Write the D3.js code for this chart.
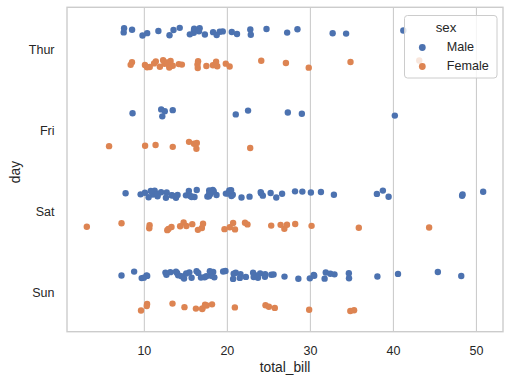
<!DOCTYPE html>
<html>
<head>
<meta charset="utf-8">
<script src="https://cdn.jsdelivr.net/npm/d3@7"></script>
<style>
  body { margin: 0; background: #fff; }
  text { font-family: "Liberation Sans", Arial, sans-serif; fill: #262626; }
</style>
</head>
<body>
<div id="chart"></div>
<script>
// categories
var days = ["Thur", "Fri", "Sat", "Sun"];
var sexes = ["Male", "Female"];
var xTicks = [10, 20, 30, 40, 50];

// total_bill per day and sex
var thurMale = [27.20, 22.76, 17.29, 19.44, 16.66, 32.68, 15.98, 13.03, 18.28, 24.71, 21.16, 11.69, 14.26, 15.95, 8.52,
    22.82, 19.08, 16.00, 34.30, 41.19, 9.78, 7.51, 28.44, 15.48, 16.58, 7.56, 10.34, 13.51, 18.71, 20.53];
var thurFemale = [10.07, 34.83, 10.65, 12.43, 24.08, 13.42, 12.48, 29.80, 14.52, 11.38, 20.27, 11.17, 12.26, 18.26, 8.51,
    10.33, 14.15, 13.16, 17.47, 27.05, 16.43, 8.35, 18.64, 11.87, 19.81, 43.11, 13.00, 12.74, 13.00, 16.40, 16.47, 18.78];
var friMale = [28.97, 22.49, 40.17, 27.28, 12.03, 21.01, 12.46, 12.16, 8.58, 13.42];
var friFemale = [5.75, 16.32, 22.75, 11.35, 15.38, 13.42, 15.98, 16.27, 10.09];
var satMale = [20.65, 17.92, 39.42, 19.82, 17.81, 13.37, 12.69, 21.70, 9.55, 18.35, 17.78, 24.06, 16.31, 18.69, 31.27,
    16.04, 38.01, 11.24, 48.27, 20.29, 13.81, 11.02, 18.29, 17.59, 20.08, 20.23, 15.01, 12.02, 10.51, 17.92, 15.36,
    20.49, 25.21, 18.24, 14.00, 50.81, 15.81, 26.59, 38.73, 24.27, 30.06, 25.89, 48.33, 28.15, 11.59, 7.74, 20.45,
    13.28, 24.01, 15.69, 11.61, 10.77, 15.53, 10.07, 12.60, 32.83, 29.03, 22.67, 17.82];
var satFemale = [20.29, 15.77, 19.65, 15.06, 20.69, 16.93, 26.41, 16.45, 3.07, 17.07, 26.86, 25.28, 14.73, 44.30, 22.42,
    20.92, 14.31, 7.25, 10.59, 10.63, 12.76, 13.27, 28.17, 12.90, 30.14, 22.12, 35.83, 27.18];
var sunMale = [10.34, 21.01, 23.68, 25.29, 8.77, 26.88, 15.04, 14.78, 10.27, 15.42, 18.43, 21.58, 16.29, 17.46, 13.94,
    9.68, 30.40, 18.29, 22.23, 32.40, 28.55, 18.04, 12.54, 9.94, 25.56, 19.49, 38.07, 23.95, 29.93, 14.07, 13.13,
    17.26, 24.55, 19.77, 48.17, 16.49, 21.50, 12.66, 13.81, 24.52, 20.76, 31.71, 7.25, 31.85, 16.82, 32.90, 17.89,
    14.48, 34.63, 34.65, 23.33, 45.35, 23.17, 40.55, 20.69, 30.46, 23.10, 15.69];
var sunFemale = [16.99, 24.59, 35.26, 14.83, 10.33, 16.97, 10.29, 34.81, 25.71, 17.31, 29.85, 25.00, 13.39, 16.21, 17.51,
    9.60, 20.90, 18.15];

var groups = {
    Thur: {Male: thurMale, Female: thurFemale},
    Fri: {Male: friMale, Female: friFemale},
    Sat: {Male: satMale, Female: satFemale},
    Sun: {Male: sunMale, Female: sunFemale}
};

var width = 512, height = 385;
var plotL = 67, plotR = 503, plotT = 7.3, plotB = 331.7;

var points = [];
days.forEach(function (day) {
    sexes.forEach(function (sex) {
        groups[day][sex].forEach(function (v, i) {
            // spread within the strip (golden ratio sequence, not data)
            var j = ((i + 1) * 0.6180339887) % 1 - 0.5;
            points.push({day: day, sex: sex, value: v, jit: j});
        });
    });
});

var all = points.map(function (d) { return d.value; });
var lo = d3.min(all), hi = d3.max(all), pad = (hi - lo) * 0.05;

var x = d3.scaleLinear().domain([lo - pad, hi + pad]).range([plotL, plotR]);
var y = d3.scaleBand().domain(days).range([plotT, plotB]).padding(0);
var hue = d3.scaleOrdinal().domain(sexes).range(["#4c72b0", "#dd8452"]);
var bw = y.bandwidth();
var dodge = d3.scaleOrdinal().domain(sexes).range([-0.2, 0.2]);

var svg = d3.select("#chart").append("svg")
    .attr("width", width)
    .attr("height", height);

// vertical grid
svg.append("g")
    .selectAll("line")
    .data(xTicks)
    .enter()
    .append("line")
    .attr("x1", function (d) { return x(d); })
    .attr("x2", function (d) { return x(d); })
    .attr("y1", plotT)
    .attr("y2", plotB)
    .attr("stroke", "#cccccc")
    .attr("stroke-width", 1.1);

// points
svg.append("g")
    .selectAll("circle")
    .data(points)
    .enter()
    .append("circle")
    .attr("cx", function (d) { return x(d.value); })
    .attr("cy", function (d) {
        return y(d.day) + bw / 2 + (dodge(d.sex) + d.jit * 0.1) * bw;
    })
    .attr("r", 3.2)
    .attr("fill", function (d) { return hue(d.sex); });

// frame
svg.append("rect")
    .attr("x", plotL)
    .attr("y", plotT)
    .attr("width", plotR - plotL)
    .attr("height", plotB - plotT)
    .attr("fill", "none")
    .attr("stroke", "#cccccc")
    .attr("stroke-width", 1.4);

// x tick labels
svg.append("g")
    .selectAll("text")
    .data(xTicks)
    .enter()
    .append("text")
    .attr("x", function (d) { return x(d); })
    .attr("y", 354.5)
    .attr("text-anchor", "middle")
    .style("font-size", "12.5px")
    .text(function (d) { return d; });

// y tick labels
svg.append("g")
    .selectAll("text")
    .data(days)
    .enter()
    .append("text")
    .attr("x", 54.5)
    .attr("y", function (d) { return y(d) + bw / 2 + 6; })
    .attr("text-anchor", "end")
    .style("font-size", "12.5px")
    .text(function (d) { return d; });

// axis labels
svg.append("text")
    .attr("x", (plotL + plotR) / 2)
    .attr("y", 372)
    .attr("text-anchor", "middle")
    .style("font-size", "13.8px")
    .text("total_bill");

svg.append("text")
    .attr("transform", "translate(20,172) rotate(-90)")
    .attr("text-anchor", "middle")
    .style("font-size", "13.8px")
    .text("day");

// legend
var lg = svg.append("g");
lg.append("rect")
    .attr("x", 404.5)
    .attr("y", 15.5)
    .attr("width", 92.5)
    .attr("height", 62.5)
    .attr("rx", 3)
    .attr("fill", "white")
    .attr("fill-opacity", 0.8)
    .attr("stroke", "#cccccc")
    .attr("stroke-width", 1);
lg.append("text")
    .attr("x", 446)
    .attr("y", 31.5)
    .attr("text-anchor", "middle")
    .style("font-size", "13.3px")
    .text("sex");
var items = lg.selectAll("g.item")
    .data(sexes)
    .enter()
    .append("g")
    .attr("class", "item")
    .attr("transform", function (d, i) { return "translate(0," + (47.5 + i * 19) + ")"; });
items.append("circle")
    .attr("cx", 422.3)
    .attr("cy", 0)
    .attr("r", 3.4)
    .attr("fill", function (d) { return hue(d); });
items.append("text")
    .attr("x", 446.7)
    .attr("y", 3.5)
    .style("font-size", "12.6px")
    .text(function (d) { return d; });
</script>
</body>
</html>
